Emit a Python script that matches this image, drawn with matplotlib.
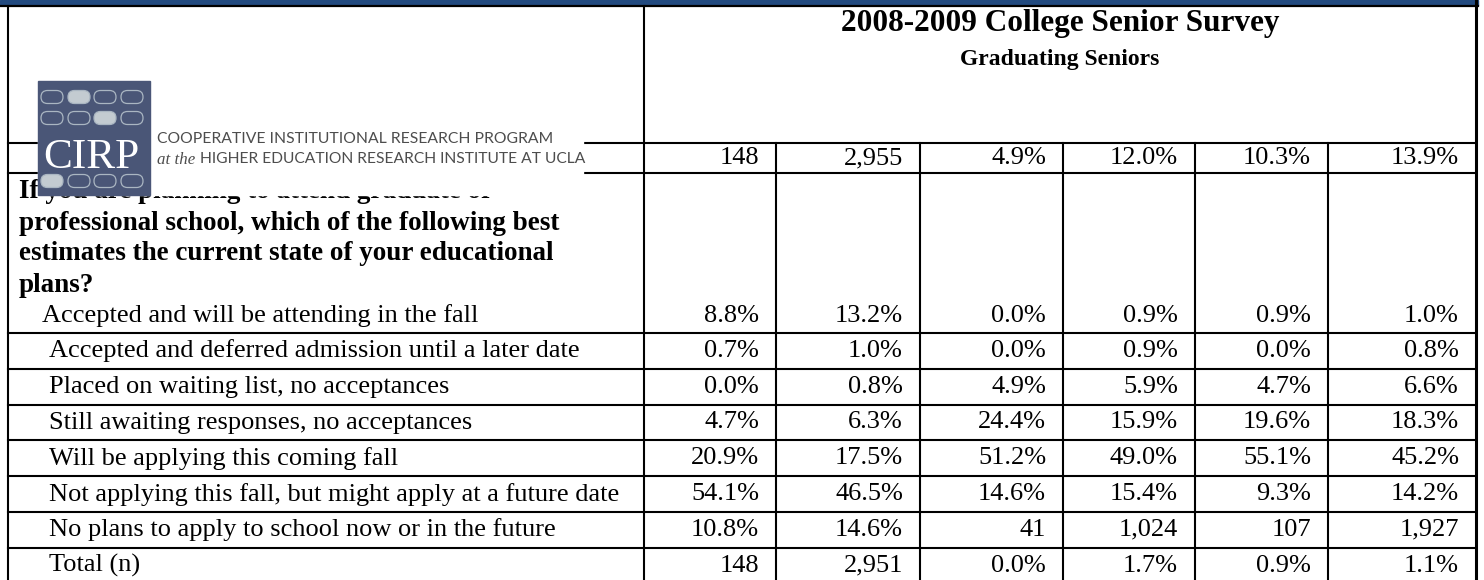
import matplotlib
matplotlib.use("Agg")
import matplotlib.pyplot as plt
from matplotlib.patches import Rectangle, FancyBboxPatch

# ---------------- data ----------------
title = "2008-2009 College Senior Survey"
subtitle = "Graduating Seniors"
count_row = ["148", "2,955", "4.9%", "12.0%", "10.3%", "13.9%"]
question_lines = [
    "If you are planning to attend graduate or",
    "professional school, which of the following best",
    "estimates the current state of your educational",
    "plans?",
]
options = [
    "Accepted and will be attending in the fall",
    "Accepted and deferred admission until a later date",
    "Placed on waiting list, no acceptances",
    "Still awaiting responses, no acceptances",
    "Will be applying this coming fall",
    "Not applying this fall, but might apply at a future date",
    "No plans to apply to school now or in the future",
    "Total (n)",
]
row_accepted = ["8.8%", "13.2%", "0.0%", "0.9%", "0.9%", "1.0%"]
row_deferred = ["0.7%", "1.0%", "0.0%", "0.9%", "0.0%", "0.8%"]
row_waiting = ["0.0%", "0.8%", "4.9%", "5.9%", "4.7%", "6.6%"]
row_awaiting = ["4.7%", "6.3%", "24.4%", "15.9%", "19.6%", "18.3%"]
row_applying = ["20.9%", "17.5%", "51.2%", "49.0%", "55.1%", "45.2%"]
row_future = ["54.1%", "46.5%", "14.6%", "15.4%", "9.3%", "14.2%"]
row_noplans = ["10.8%", "14.6%", "41", "1,024", "107", "1,927"]
row_total = ["148", "2,951", "0.0%", "1.7%", "0.9%", "1.1%"]
table_rows = [row_accepted, row_deferred, row_waiting, row_awaiting,
              row_applying, row_future, row_noplans, row_total]
logo_line1 = "COOPERATIVE INSTITUTIONAL RESEARCH PROGRAM"
logo_line2a = "at the"
logo_line2b = "HIGHER EDUCATION RESEARCH INSTITUTE AT UCLA"
logo_word = "CIRP"

# ---------------- layout ----------------
W, H = 1484, 580
fig = plt.figure(figsize=(W / 100, H / 100), dpi=100)
ax = fig.add_axes([0, 0, 1, 1])
ax.set_xlim(0, W)
ax.set_ylim(H, 0)
ax.axis("off")
renderer = fig.canvas.get_renderer()

SERIF = ["Liberation Serif", "DejaVu Serif"]
col_edges = [8, 644, 776, 920, 1063, 1195, 1328, 1476]
header_top, header_bot, count_bot = 6, 143, 173
first_row_bot = 333
row_h = 35.8
row_edges = [first_row_bot + i * row_h for i in range(len(options))]
lw = 1.5
BODY = 19
QBODY = 19.5

# top bar
ax.add_patch(Rectangle((0, 0), 1478, 5, color="#224a7f", zorder=1))
ax.plot([0, 1478], [5.8, 5.8], color="black", lw=1.6, zorder=1)

# borders / grid
ax.plot([col_edges[0]] * 2, [header_top, H], color="black", lw=lw, zorder=1)
ax.plot([col_edges[1]] * 2, [header_top, H], color="black", lw=lw, zorder=1)
ax.plot([col_edges[-1]] * 2, [0, H], color="black", lw=2.2, zorder=1)
for x in col_edges[2:-1]:
    ax.plot([x, x], [header_bot, H], color="black", lw=lw, zorder=1)
for y in [header_bot, count_bot] + row_edges:
    ax.plot([col_edges[0], col_edges[-1]], [y, y], color="black", lw=lw, zorder=1)

# title
xc = (col_edges[1] + col_edges[-1]) / 2
ax.text(xc, 23, title, ha="center", va="center", fontsize=22.5,
        fontweight="bold", family=SERIF, zorder=2)
ax.text(xc, 59, subtitle, ha="center", va="center", fontsize=17,
        fontweight="bold", family=SERIF, zorder=2)

pad = 17
def put_values(vals, yc):
    for j, v in enumerate(vals):
        ax.text(col_edges[j + 2] - pad, yc, v, ha="right", va="center",
                fontsize=BODY, family=SERIF, zorder=2)

put_values(count_row, (header_bot + count_bot) / 2)

# question
q_y0, q_dy = 192, 31
for i, line in enumerate(question_lines):
    ax.text(19, q_y0 + i * q_dy, line, ha="left", va="center", fontsize=QBODY,
            fontweight="bold", family=SERIF, zorder=2)

# options
first_y = q_y0 + len(question_lines) * q_dy
for i, (lab, vals) in enumerate(zip(options, table_rows)):
    if i == 0:
        yc, xl = first_y, 42
    else:
        yc, xl = row_edges[i - 1] + row_h / 2, 49
    ax.text(xl, yc, lab, ha="left", va="center", fontsize=BODY,
            family=SERIF, zorder=2)
    put_values(vals, yc)

# ---------------- logo ----------------
ax.add_patch(Rectangle((38, 81), 583 - 38, 195 - 81, color="white", zorder=3))
ax.add_patch(Rectangle((38, 81), 150 - 38, 195 - 81, color="#4a5677", zorder=4))
pill_x = [52, 79, 105, 132]
pill_y = [97, 118, 181]
filled = {(0, 1), (1, 2), (2, 0)}
pw, ph = 22, 13
for r, yy in enumerate(pill_y):
    for c, xx in enumerate(pill_x):
        fc = "#c3cbd1" if (r, c) in filled else "none"
        ax.add_patch(FancyBboxPatch((xx - pw / 2, yy - ph / 2), pw, ph,
                                    boxstyle="round,pad=0,rounding_size=6.5",
                                    fc=fc, ec="#aab6c2", lw=0.9, zorder=5))


def fit_text(x, y, s, target_w, base=10, **kw):
    t = ax.text(x, y, s, fontsize=base, **kw)
    w = t.get_window_extent(renderer).width
    t.set_fontsize(base * target_w / w)
    return t

fit_text(43, 168, logo_word, 96, base=30, color="white", family=SERIF,
         ha="left", va="baseline", zorder=6)
fit_text(157, 139, logo_line1, 393, color="#4d4d4d", family=["Lato", "DejaVu Sans"],
         ha="left", va="center", zorder=6)
fit_text(157, 160, logo_line2a, 38, color="#4d4d4d", family=SERIF, style="italic",
         ha="left", va="center", zorder=6)
fit_text(200, 159, logo_line2b, 383, color="#4d4d4d", family=["Lato", "DejaVu Sans"],
         ha="left", va="center", zorder=6)

fig.savefig("out.png", dpi=100)
